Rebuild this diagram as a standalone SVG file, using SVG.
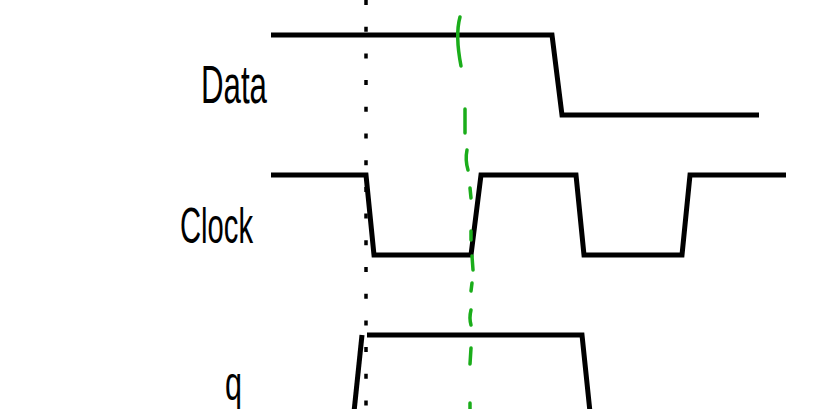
<svg xmlns="http://www.w3.org/2000/svg" width="835" height="409" viewBox="0 0 835 409">
<style>
.sig{fill:none;stroke:#000;stroke-width:5;stroke-linejoin:miter}
.lbl{font-family:"Liberation Sans",Arial,sans-serif;fill:#000}
.grn{fill:none;stroke:#1aad1a;stroke-width:3.5;stroke-linecap:round}
</style>
<rect width="835" height="409" fill="#fff"/>
<g id="labels">
<text id="data-label" class="lbl" x="201" y="103" font-size="54" textLength="66" lengthAdjust="spacingAndGlyphs">Data</text>
<text id="clock-label" class="lbl" x="180" y="243" font-size="50" textLength="73" lengthAdjust="spacingAndGlyphs">Clock</text>
<text id="q-label" class="lbl" x="225" y="400" font-size="48" textLength="17" lengthAdjust="spacingAndGlyphs">q</text>
</g>
<g id="signals">
<polyline id="data" class="sig" points="271,35 552,35 562,115 759,115"/>
<polyline id="clock" class="sig" points="271,175 366,175 374,255 471,255 481,175 576,175 584,255 682,255 690,175 786,175"/>
<polyline id="q" class="sig" points="354,412 362,335"/>
<polyline id="q2" class="sig" points="367,335 582,335 590,412"/>
</g>
<g id="connectors">
<line x1="366" y1="0" x2="366" y2="409" stroke="#000" stroke-width="3.5" stroke-dasharray="5,21.7" stroke-dashoffset="0"/>
<g class="grn">
<path d="M460,17 Q455,35 461,66"/>
<path d="M465,109 L465,133"/>
<path d="M467,150 Q465,160 468,170"/>
<path d="M470,188 L471,198"/>
<path d="M471,231 L471,240"/>
<path d="M472,256 L473,270"/>
<path d="M472,283 L471,291"/>
<path d="M471,310 Q469,318 471,325"/>
<path d="M471,348 L470,364"/>
<path d="M470,403 L470,409"/>
</g>
</g>
</svg>
